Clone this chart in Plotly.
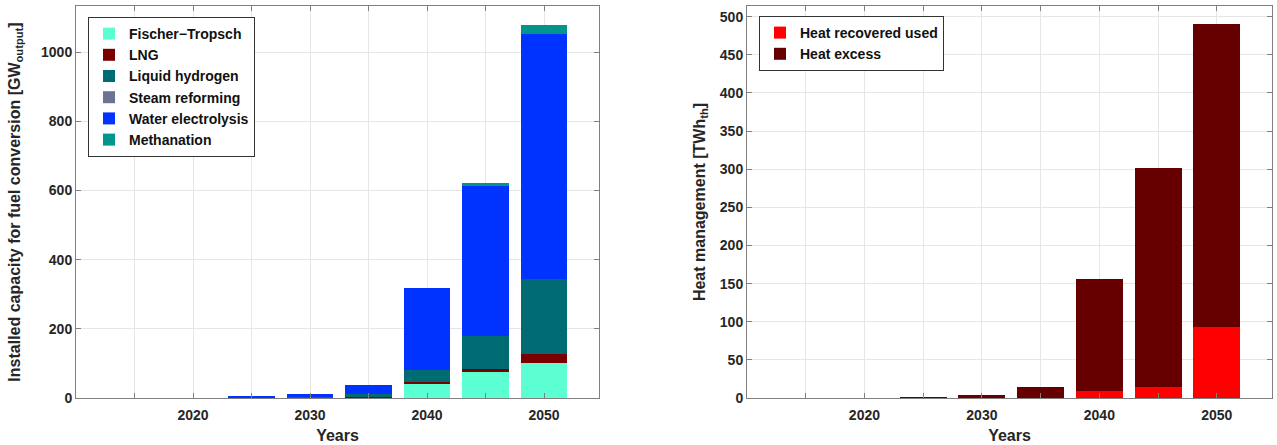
import plotly.graph_objects as go

years = [2025, 2030, 2035, 2040, 2045, 2050]

# Left chart: installed capacity for fuel conversion [GW_output]
fischer_tropsch = [0, 0, 0, 43, 75, 101]
lng = [0, 2, 3, 4, 8, 26]
liquid_hydrogen = [0, 2, 9, 34, 97, 218]
steam_reforming = [0, 0, 0, 0, 0, 0]
water_electrolysis = [3, 9, 27, 236, 436, 707]
methanation = [0, 0, 0, 0, 5, 27]

# Right chart: heat management [TWh_th]
heat_recovered_used = [0, 0, 0, 8.6, 14, 93]
heat_excess = [1, 4.3, 13.8, 147.4, 287, 397]

left_series = [
    ("Fischer\u2212Tropsch", fischer_tropsch, "#5cffd2"),
    ("LNG", lng, "#7a0000"),
    ("Liquid hydrogen", liquid_hydrogen, "#006b73"),
    ("Steam reforming", steam_reforming, "#6b7394"),
    ("Water electrolysis", water_electrolysis, "#0033ff"),
    ("Methanation", methanation, "#00968c"),
]
right_series = [
    ("Heat recovered used", heat_recovered_used, "#ff0000"),
    ("Heat excess", heat_excess, "#660000"),
]

xtick_vals = [2015, 2020, 2025, 2030, 2035, 2040, 2045, 2050]
xtick_text = ["", "2020", "", "2030", "", "2040", "", "2050"]

fig = go.Figure()
for name, vals, col in left_series:
    fig.add_trace(go.Bar(x=years, y=vals, name=name, marker_color=col,
                         marker_line_width=0, width=4, xaxis="x", yaxis="y",
                         legend="legend"))
for name, vals, col in right_series:
    fig.add_trace(go.Bar(x=years, y=vals, name=name, marker_color=col,
                         marker_line_width=0, width=4, xaxis="x2", yaxis="y2",
                         legend="legend2"))

W, H = 1277, 445
fam = "Liberation Sans, Arial, sans-serif"
tickfont = dict(family=fam, size=14, color="#262626", weight="bold")
titlefont = dict(family=fam, size=16, color="#262626", weight="bold")
legfont = dict(family=fam, size=14, color="#111111", weight="bold")

common_x = dict(range=[2010, 2054.7], tickvals=xtick_vals, ticktext=xtick_text,
                tickfont=tickfont, showgrid=True, gridcolor="#e6e6e6",
                showline=True, linecolor="#808080", mirror="ticks",
                ticks="inside", ticklen=5, tickcolor="#808080",
                ticklabelstandoff=4,
                zeroline=False, automargin=False)
common_y = dict(tickfont=tickfont, showgrid=True, gridcolor="#e6e6e6",
                showline=True, linecolor="#808080", mirror="ticks",
                ticks="inside", ticklen=5, tickcolor="#808080",
                zeroline=False, automargin=False)

ybot = 1 - 398 / H
ytop = 1 - 6 / H

fig.update_layout(
    width=W, height=H,
    margin=dict(l=0, r=0, t=0, b=0),
    paper_bgcolor="white", plot_bgcolor="white",
    barmode="stack", bargap=0,
    xaxis=dict(domain=[76 / W, 599 / W], anchor="y",
               title=dict(text="Years", font=titlefont, standoff=8), **common_x),
    yaxis=dict(domain=[ybot, ytop], anchor="x", range=[0, 1134],
               tickvals=[0, 200, 400, 600, 800, 1000],
               title=dict(text="Installed capacity for fuel conversion [GW<sub>output</sub>]",
                          font=titlefont, standoff=16), **common_y),
    xaxis2=dict(domain=[747 / W, 1272 / W], anchor="y2",
                title=dict(text="Years", font=titlefont, standoff=8), **common_x),
    yaxis2=dict(domain=[ybot, ytop], anchor="x2", range=[0, 514],
                tickvals=list(range(0, 501, 50)),
                title=dict(text="Heat management [TWh<sub>th</sub>]",
                           font=titlefont, standoff=10), **common_y),
    legend=dict(x=88 / W, y=1 - 17 / H, xanchor="left", yanchor="top",
                bgcolor="white", bordercolor="#333333", borderwidth=1,
                font=legfont,
                tracegroupgap=0, itemsizing="constant", traceorder="normal"),
    legend2=dict(x=759 / W, y=1 - 16 / H, xanchor="left", yanchor="top",
                 bgcolor="white", bordercolor="#333333", borderwidth=1,
                 font=legfont,
                 tracegroupgap=0, itemsizing="constant", traceorder="normal"),
)

fig.write_html(
    "out.html",
    config={"displayModeBar": False},
    post_script="document.body.style.margin='0';document.body.style.overflow='hidden';",
)
